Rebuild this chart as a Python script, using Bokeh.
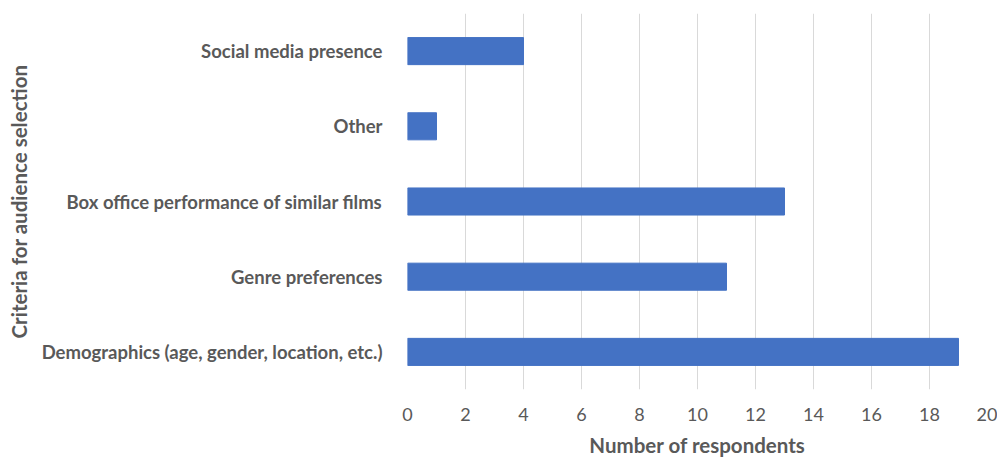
from bokeh.plotting import figure
from bokeh.models import FactorRange, Range1d, FixedTicker
from bokeh.embed import file_html
from bokeh.resources import INLINE

criteria = [
    "Demographics (age, gender, location, etc.)",
    "Genre preferences",
    "Box office performance of similar films",
    "Other",
    "Social media presence",
]
respondents = [19, 11, 13, 1, 4]
x_ticks = [0, 2, 4, 6, 8, 10, 12, 14, 16, 18, 20]

FONT = "Lato"
GREY = "#595959"

p = figure(
    width=997, height=459,
    y_range=FactorRange(*criteria, range_padding=0),
    x_range=Range1d(0, 20),
    output_backend="svg", toolbar_location=None,
    min_border_left=407, min_border_right=10,
    min_border_top=13, min_border_bottom=69,
)

p.hbar(y=criteria, right=respondents, left=0, height=0.36, color="#4472C4")

p.outline_line_color = None
p.ygrid.grid_line_color = None
p.xgrid.grid_line_color = "#d9d9d9"
p.xgrid.grid_line_width = 1

p.xaxis.ticker = FixedTicker(ticks=x_ticks)
for ax in (p.xaxis[0], p.yaxis[0]):
    ax.axis_line_color = None
    ax.major_tick_line_color = None
    ax.minor_tick_line_color = None
    ax.major_label_text_color = GREY
    ax.major_label_text_font = FONT
    ax.axis_label_text_color = GREY
    ax.axis_label_text_font = FONT
    ax.axis_label_text_font_style = "bold"
    ax.axis_label_text_font_size = "20.5px"

p.xaxis.major_label_text_font_size = "18px"
p.xaxis.major_label_standoff = 12
p.xaxis.axis_label = "Number of respondents"
p.xaxis.axis_label_standoff = 9

p.yaxis.major_label_text_font_size = "18.5px"
p.yaxis.major_label_text_font_style = "bold"
p.yaxis.major_label_standoff = 19
p.yaxis.axis_label = "Criteria for audience selection"
p.yaxis.axis_label_standoff = 8

open("out.html", "w").write(file_html(p, INLINE))
